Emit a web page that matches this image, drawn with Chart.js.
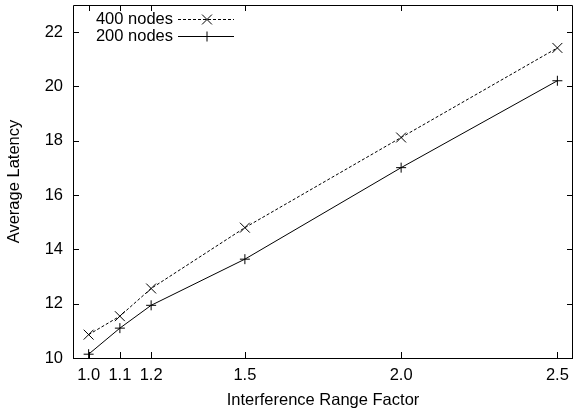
<!DOCTYPE html>
<html>
<head>
<meta charset="utf-8">
<script src="https://cdn.jsdelivr.net/npm/chart.js"></script>
<style>
    body { margin: 0; background: #fff; }
</style>
</head>
<body>
<canvas id="chart-area" width="573" height="414"></canvas>
<script>
    "use strict";
    // values
    const factors = [1.0, 1.1, 1.2, 1.5, 2.0, 2.5];
    const latency400 = [10.86, 11.54, 12.56, 14.8, 18.12, 21.42];
    const latency200 = [10.14, 11.1, 11.94, 13.64, 17.01, 20.21];
    const xTicks = [1.0, 1.1, 1.2, 1.5, 2.0, 2.5];
    const yTicks = [10, 12, 14, 16, 18, 20, 22];
    const seriesNames = ['400 nodes', '200 nodes'];

    const FONT = 'Liberation Sans, Arial, Helvetica, sans-serif';
    const FSIZE = 16.5;

    function toPoints(ys) {
        return factors.map(function (x, i) { return {x: x, y: ys[i]}; });
    }

    // gnuplot style frame with inward tics on all four sides
    const frame = {
        id: 'frame',
        afterDraw: function (chart) {
            const ctx = chart.ctx;
            const a = chart.chartArea;
            const xs = chart.scales.x, ys = chart.scales.y;
            const tl = 6;
            ctx.save();
            ctx.strokeStyle = '#000';
            ctx.lineWidth = 1;
            ctx.beginPath();
            ctx.rect(a.left + 0.5, a.top + 0.5, a.right - a.left - 1, a.bottom - a.top);
            xTicks.forEach(function (v) {
                const px = Math.round(xs.getPixelForValue(v)) + 0.5;
                ctx.moveTo(px, a.bottom); ctx.lineTo(px, a.bottom - tl);
                ctx.moveTo(px, a.top); ctx.lineTo(px, a.top + tl);
            });
            yTicks.forEach(function (v) {
                const py = Math.round(ys.getPixelForValue(v)) + 0.5;
                ctx.moveTo(a.left, py); ctx.lineTo(a.left + tl, py);
                ctx.moveTo(a.right, py); ctx.lineTo(a.right - tl, py);
            });
            ctx.stroke();
            ctx.restore();
        }
    };

    // key in the top left corner: text, then line sample with marker
    const key = {
        id: 'key',
        afterDraw: function (chart) {
            const ctx = chart.ctx;
            ctx.save();
            ctx.font = FSIZE + 'px ' + FONT;
            ctx.textAlign = 'right';
            ctx.textBaseline = 'middle';
            ctx.fillStyle = '#000';
            chart.data.datasets.forEach(function (ds, i) {
                const y = 19 + i * 17;
                ctx.fillText(ds.label, 173, y);
                ctx.strokeStyle = ds.borderColor;
                ctx.lineWidth = ds.borderWidth;
                ctx.setLineDash(ds.borderDash || []);
                ctx.beginPath();
                ctx.moveTo(178, y + 0.5);
                ctx.lineTo(234, y + 0.5);
                ctx.stroke();
                ctx.setLineDash([]);
                Chart.helpers.drawPoint(ctx, {
                    pointStyle: ds.pointStyle,
                    radius: ds.pointRadius,
                    borderWidth: ds.borderWidth,
                    rotation: 0
                }, 207, y + 0.5);
            });
            ctx.restore();
        }
    };

    const config = {
        type: 'line',
        data: {
            datasets: [{
                label: seriesNames[0],
                data: toPoints(latency400),
                borderColor: '#000',
                backgroundColor: '#000',
                borderWidth: 1,
                borderDash: [3, 2],
                pointStyle: 'crossRot',
                pointRadius: 7,
                pointBorderColor: '#000',
                pointBorderWidth: 1,
                tension: 0
            }, {
                label: seriesNames[1],
                data: toPoints(latency200),
                borderColor: '#000',
                backgroundColor: '#000',
                borderWidth: 1,
                pointStyle: 'cross',
                pointRadius: 5,
                pointBorderColor: '#000',
                pointBorderWidth: 1,
                tension: 0
            }]
        },
        options: {
            animation: false,
            responsive: false,
            events: [],
            layout: {autoPadding: false, padding: {top: 5, right: 0, left: 0, bottom: 0}},
            plugins: {
                legend: {display: false},
                tooltip: {enabled: false}
            },
            scales: {
                x: {
                    type: 'linear',
                    min: 0.95,
                    max: 2.55,
                    border: {display: false},
                    grid: {display: false, drawTicks: false},
                    afterBuildTicks: function (s) {
                        s.ticks = xTicks.map(function (v) { return {value: v}; });
                    },
                    afterFit: function (s) {
                        s.height = 56;
                        s.paddingLeft = 0;
                        s.paddingRight = 0;
                    },
                    ticks: {
                        color: '#000',
                        padding: 8,
                        maxRotation: 0,
                        autoSkip: false,
                        font: {family: FONT, size: FSIZE},
                        callback: function (v) { return Number(v).toFixed(1); }
                    },
                    title: {
                        display: true,
                        text: 'Interference Range Factor',
                        color: '#000',
                        padding: {top: 0, bottom: 4},
                        font: {family: FONT, size: FSIZE}
                    }
                },
                y: {
                    type: 'linear',
                    min: 10,
                    max: 23,
                    border: {display: false},
                    grid: {display: false, drawTicks: false},
                    afterBuildTicks: function (s) {
                        s.ticks = yTicks.map(function (v) { return {value: v}; });
                    },
                    afterFit: function (s) {
                        s.width = 73;
                        s.paddingTop = 0;
                        s.paddingBottom = 0;
                    },
                    ticks: {
                        color: '#000',
                        padding: 10,
                        font: {family: FONT, size: FSIZE}
                    },
                    title: {
                        display: true,
                        text: 'Average Latency',
                        color: '#000',
                        padding: {top: 5, bottom: 0},
                        font: {family: FONT, size: FSIZE}
                    }
                }
            }
        },
        plugins: [frame, key]
    };

    const ctx = document.getElementById('chart-area').getContext('2d');
    window.myLine = new Chart(ctx, config);
</script>
</body>
</html>
